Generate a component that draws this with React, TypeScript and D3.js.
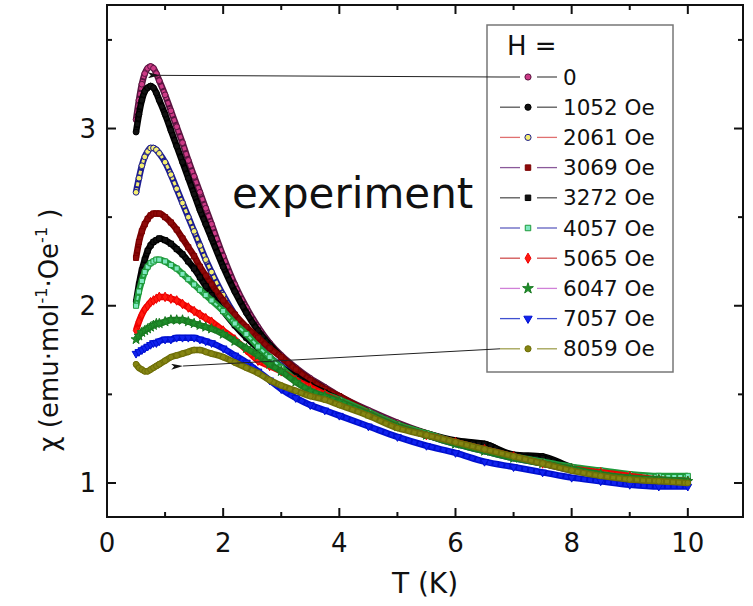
import React from 'react';
import * as d3 from 'd3';

// temperature grid (K) shared by all field runs
const temps = [0.5, 0.55, 0.6, 0.65, 0.7, 0.75, 0.8, 0.85, 0.9, 1.0, 1.1, 1.2, 1.3, 1.4, 1.5, 1.6, 1.7, 1.8, 2.0, 2.2, 2.4, 2.6, 2.8, 3.0, 3.25, 3.5, 3.75, 4.0, 4.5, 5.0, 5.5, 6.0, 6.5, 7.0, 7.5, 8.0, 8.5, 9.0, 9.5, 10.0];

// chi values, one array per field
const chiH0 = [3.05, 3.16, 3.25, 3.31, 3.34, 3.35, 3.34, 3.31, 3.27, 3.19, 3.10, 3.01, 2.92, 2.82, 2.73, 2.64, 2.55, 2.46, 2.28, 2.12, 1.99, 1.88, 1.79, 1.72, 1.65, 1.59, 1.54, 1.49, 1.41, 1.34, 1.28, 1.23, 1.19, 1.15, 1.11, 1.08, 1.05, 1.03, 1.02, 1.01];
const chiH1052 = [2.98, 3.08, 3.16, 3.21, 3.23, 3.24, 3.23, 3.20, 3.16, 3.08, 2.99, 2.90, 2.81, 2.72, 2.63, 2.54, 2.46, 2.38, 2.22, 2.08, 1.96, 1.86, 1.78, 1.71, 1.64, 1.58, 1.53, 1.48, 1.40, 1.33, 1.28, 1.24, 1.22, 1.16, 1.15, 1.09, 1.06, 1.03, 1.02, 1.02];
const chiH2061 = [2.64, 2.72, 2.79, 2.84, 2.87, 2.89, 2.89, 2.88, 2.86, 2.81, 2.74, 2.66, 2.58, 2.50, 2.42, 2.34, 2.26, 2.19, 2.06, 1.95, 1.86, 1.78, 1.71, 1.66, 1.60, 1.55, 1.51, 1.47, 1.39, 1.32, 1.27, 1.22, 1.18, 1.14, 1.11, 1.07, 1.05, 1.03, 1.01, 1.00];
const chiH3069 = [2.27, 2.36, 2.42, 2.46, 2.49, 2.51, 2.52, 2.52, 2.52, 2.50, 2.47, 2.43, 2.38, 2.33, 2.28, 2.22, 2.17, 2.12, 2.03, 1.95, 1.88, 1.82, 1.76, 1.71, 1.64, 1.58, 1.53, 1.49, 1.40, 1.33, 1.28, 1.23, 1.19, 1.15, 1.12, 1.08, 1.05, 1.03, 1.01, 1.00];
const chiH3272 = [2.02, 2.12, 2.20, 2.26, 2.31, 2.34, 2.36, 2.37, 2.38, 2.37, 2.35, 2.32, 2.29, 2.25, 2.21, 2.16, 2.11, 2.06, 1.97, 1.89, 1.82, 1.76, 1.70, 1.65, 1.60, 1.55, 1.51, 1.47, 1.39, 1.32, 1.27, 1.23, 1.22, 1.15, 1.14, 1.08, 1.05, 1.03, 1.02, 1.01];
const chiH4057 = [2.00, 2.08, 2.14, 2.19, 2.22, 2.24, 2.25, 2.26, 2.26, 2.25, 2.23, 2.21, 2.18, 2.15, 2.12, 2.09, 2.06, 2.03, 1.97, 1.90, 1.84, 1.77, 1.71, 1.65, 1.58, 1.53, 1.50, 1.47, 1.40, 1.33, 1.28, 1.23, 1.19, 1.15, 1.12, 1.09, 1.07, 1.05, 1.04, 1.04];
const chiH5065 = [1.86, 1.91, 1.95, 1.98, 2.00, 2.02, 2.03, 2.04, 2.05, 2.05, 2.04, 2.03, 2.01, 1.99, 1.97, 1.95, 1.93, 1.91, 1.86, 1.81, 1.75, 1.69, 1.66, 1.63, 1.58, 1.54, 1.50, 1.46, 1.39, 1.32, 1.27, 1.23, 1.19, 1.15, 1.11, 1.08, 1.06, 1.04, 1.02, 1.01];
const chiH6047 = [1.81, 1.83, 1.85, 1.86, 1.87, 1.88, 1.89, 1.90, 1.90, 1.91, 1.92, 1.92, 1.92, 1.91, 1.90, 1.89, 1.88, 1.87, 1.84, 1.80, 1.76, 1.72, 1.67, 1.63, 1.57, 1.52, 1.49, 1.46, 1.39, 1.32, 1.27, 1.22, 1.18, 1.14, 1.11, 1.08, 1.05, 1.03, 1.02, 1.01];
const chiH7057 = [1.73, 1.74, 1.75, 1.76, 1.77, 1.78, 1.79, 1.79, 1.80, 1.81, 1.81, 1.82, 1.82, 1.82, 1.82, 1.81, 1.80, 1.79, 1.76, 1.72, 1.68, 1.63, 1.58, 1.53, 1.48, 1.44, 1.41, 1.38, 1.32, 1.26, 1.21, 1.17, 1.12, 1.09, 1.06, 1.03, 1.01, 0.99, 0.98, 0.98];
const chiH8059 = [1.67, 1.65, 1.64, 1.63, 1.63, 1.64, 1.65, 1.66, 1.67, 1.69, 1.71, 1.72, 1.73, 1.74, 1.75, 1.75, 1.74, 1.73, 1.71, 1.68, 1.65, 1.62, 1.58, 1.55, 1.52, 1.49, 1.47, 1.44, 1.38, 1.31, 1.27, 1.23, 1.19, 1.15, 1.11, 1.07, 1.04, 1.02, 1.01, 1.00];

const fieldLabels = ['0', '1052 Oe', '2061 Oe', '3069 Oe', '3272 Oe', '4057 Oe', '5065 Oe', '6047 Oe', '7057 Oe', '8059 Oe'];
const seriesValues = [chiH0, chiH1052, chiH2061, chiH3069, chiH3272, chiH4057, chiH5065, chiH6047, chiH7057, chiH8059];

const xMajor = [0, 2, 4, 6, 8, 10];
const xMinor = [1, 3, 5, 7, 9];
const yMajor = [1, 2, 3];
const yMinor = [1.5, 2.5, 3.5];

// arrows from the legend to the 0 Oe and 8059 Oe curves (T, chi)
const arrowTips = [[0.91, 3.3], [1.31, 1.66]];

// marker look per series (same order as fieldLabels)
const styles = [
  { sym: d3.symbolCircle, fill: '#cc3a86', edge: '#5a1440', line: '#555', inner: 3.5 },
  { sym: d3.symbolCircle, fill: '#111', edge: '#000', line: '#555', inner: 3.5 },
  { sym: d3.symbolCircle, fill: '#f4ee70', edge: '#1c1c90', line: '#e07070', inner: 3 },
  { sym: d3.symbolSquare, fill: '#8e0a0a', edge: '#7a0000', line: '#8a5a9a', inner: 3.5 },
  { sym: d3.symbolSquare, fill: '#111', edge: '#000', line: '#555', inner: 3.5 },
  { sym: d3.symbolSquare, fill: '#7ee8c0', edge: '#1e9a3a', line: '#6060c0', inner: 2 },
  { sym: d3.symbolDiamond, fill: '#ff1a10', edge: '#ee0000', line: '#d05050', inner: 3.5 },
  { sym: d3.symbolStar, fill: '#1f8f2a', edge: '#1a7a22', line: '#d080d8', inner: 3.5 },
  { sym: d3.symbolTriangle, fill: '#1022ee', edge: '#0010d0', line: '#4050d0', inner: 3.5, flip: true },
  { sym: d3.symbolCircle, fill: '#858512', edge: '#6e6e08', line: '#a0a050', inner: 3.5 },
];

const font = "'DejaVu Sans', 'Liberation Sans', sans-serif";

const App = () => {
  const left = 107, right = 743, top = 5, bottom = 517;
  const x = d3.scaleLinear().domain([0, 10.95]).range([left, right]);
  const y = d3.scaleLinear().domain([0.808, 3.697]).range([bottom, top]);

  const line = d3.line<number>()
    .x((_, i) => x(temps[i]))
    .y(d => y(d))
    .curve(d3.curveMonotoneX);

  const legendX = 487, legendY = 25;
  const rowY = (i: number) => 77 + i * 30.2;

  return (
    <svg width={753} height={606} style={{ position: 'fixed', left: 0, top: 0, background: '#fff' }}
      fontFamily={font}>
      <defs>
        <marker id="arrowHead" viewBox="0 0 12 6" refX="0" refY="3" markerWidth="12" markerHeight="6"
          markerUnits="userSpaceOnUse" orient="auto-start-reverse">
          <path d="M0,3 L12,0 L9,3 L12,6 Z" fill="#111" />
        </marker>
        <clipPath id="plotClip">
          <rect x={left} y={top} width={right - left} height={bottom - top} />
        </clipPath>
      </defs>

      {/* dense data runs: band plus markers */}
      <g clipPath="url(#plotClip)">
        {seriesValues.map((vals, si) => {
          const st = styles[si];
          const sym = d3.symbol().type(st.sym).size(st.sym === d3.symbolStar ? 30 : 26)();
          return (
            <g key={si}>
              <path d={line(vals) || ''} fill="none" stroke={st.edge} strokeWidth={6.5} strokeLinejoin="round" />
              <path d={line(vals) || ''} fill="none" stroke={st.fill} strokeWidth={st.inner} strokeLinejoin="round"
                strokeDasharray="4 2" />
              {vals.map((v, i) => (
                <path key={i} d={sym || ''} fill={st.fill} stroke={st.edge} strokeWidth={1}
                  transform={`translate(${x(temps[i])},${y(v)})${st.flip ? ' rotate(180)' : ''}`} />
              ))}
            </g>
          );
        })}
      </g>

      {/* frame and ticks */}
      <rect x={left} y={top} width={right - left} height={bottom - top} fill="none" stroke="#111" strokeWidth={2} />
      {xMajor.map(t => (
        <g key={'xM' + t}>
          <line x1={x(t)} x2={x(t)} y1={bottom} y2={bottom - 9} stroke="#111" strokeWidth={2} />
          <line x1={x(t)} x2={x(t)} y1={top} y2={top + 9} stroke="#111" strokeWidth={2} />
          <text x={x(t)} y={552} fontSize={26} textAnchor="middle" fill="#111">{t}</text>
        </g>
      ))}
      {xMinor.map(t => (
        <g key={'xm' + t}>
          <line x1={x(t)} x2={x(t)} y1={bottom} y2={bottom - 5} stroke="#111" strokeWidth={2} />
          <line x1={x(t)} x2={x(t)} y1={top} y2={top + 5} stroke="#111" strokeWidth={2} />
        </g>
      ))}
      {yMajor.map(v => (
        <g key={'yM' + v}>
          <line x1={left} x2={left + 9} y1={y(v)} y2={y(v)} stroke="#111" strokeWidth={2} />
          <line x1={right} x2={right - 9} y1={y(v)} y2={y(v)} stroke="#111" strokeWidth={2} />
          <text x={96} y={y(v) + 9.5} fontSize={26} textAnchor="end" fill="#111">{v}</text>
        </g>
      ))}
      {yMinor.map(v => (
        <g key={'ym' + v}>
          <line x1={left} x2={left + 5} y1={y(v)} y2={y(v)} stroke="#111" strokeWidth={2} />
          <line x1={right} x2={right - 5} y1={y(v)} y2={y(v)} stroke="#111" strokeWidth={2} />
        </g>
      ))}

      {/* axis titles */}
      <text x={(left + right) / 2} y={593} fontSize={28} textAnchor="middle" fill="#111">T (K)</text>
      <text transform="translate(58,330) rotate(-90)" fontSize={26} textAnchor="middle" fill="#111">
        {'\u03c7 (emu\u00b7mol'}
        <tspan dy={-11} fontSize={16}>-1</tspan>
        <tspan dy={11}>{'\u00b7Oe'}</tspan>
        <tspan dy={-11} fontSize={16}>-1</tspan>
        <tspan dy={11}>{' )'}</tspan>
      </text>

      <text x={232} y={208} fontSize={42} fill="#111">experiment</text>

      {/* legend */}
      <rect x={legendX} y={legendY} width={186} height={347} fill="#fff" stroke="#777" strokeWidth={1.5} />
      <text x={507} y={55} fontSize={26} fill="#111">H =</text>
      {fieldLabels.map((lab, i) => {
        const st = styles[i];
        const sym = d3.symbol().type(st.sym).size(st.sym === d3.symbolStar ? 36 : 30)();
        const cy = rowY(i);
        return (
          <g key={lab}>
            <line x1={500} x2={520} y1={cy} y2={cy} stroke={st.line} strokeWidth={1.3} />
            <line x1={537} x2={557} y1={cy} y2={cy} stroke={st.line} strokeWidth={1.3} />
            <path d={sym || ''} fill={st.fill} stroke={st.edge} strokeWidth={1}
              transform={`translate(528,${cy})${st.flip ? ' rotate(180)' : ''}`} />
            <text x={563} y={cy + 7.5} fontSize={21.5} fill="#111">{lab}</text>
          </g>
        );
      })}

      {/* arrows */}
      {arrowTips.map(([t, v], i) => (
        <line key={'a' + i} x1={500} y1={rowY(i === 0 ? 0 : 9)} x2={x(t)} y2={y(v)}
          stroke="#222" strokeWidth={1} markerEnd="url(#arrowHead)" />
      ))}
    </svg>
  );
};

export default App;
